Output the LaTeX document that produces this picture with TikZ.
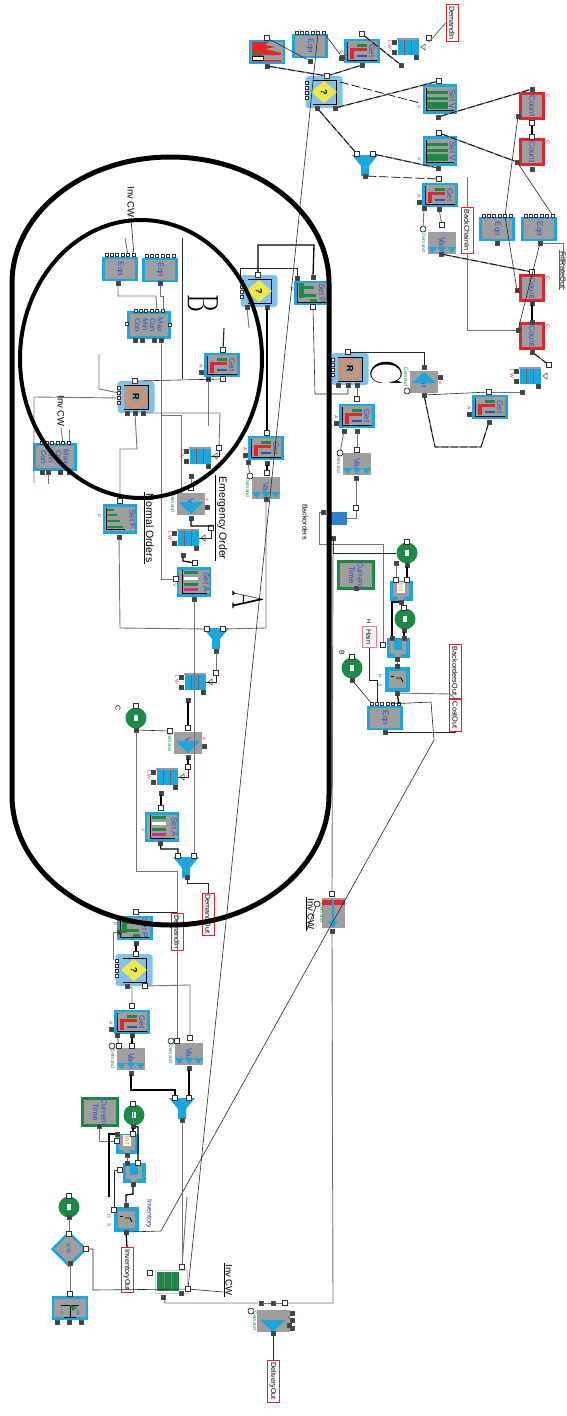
\documentclass[tikz,border=0pt]{standalone}
\usepackage{fontspec}
\setmainfont{Liberation Sans}
\usetikzlibrary{positioning,arrows,shapes}

\definecolor{cyanb}{HTML}{1AA7E0}
\definecolor{grayb}{HTML}{9E9E9E}
\definecolor{lightb}{HTML}{80C2EC}
\definecolor{yellowb}{HTML}{EEE84A}
\definecolor{redb}{HTML}{E1252B}
\definecolor{greenb}{HTML}{1A8A45}
\definecolor{pinkb}{HTML}{E6218E}
\definecolor{blueb}{HTML}{2A55B0}
\definecolor{orangeb}{HTML}{EE8A55}
\definecolor{darkb}{HTML}{2F7FCF}
\definecolor{textb}{HTML}{3050C0}

\tikzset{
    x=1pt, y=-1pt,
    box/.style={rectangle, rotate=-90, inner sep=0pt, outer sep=0pt, fill=grayb, text=textb, font=\fontsize{8}{8.5}\selectfont, align=center},
    eqnbox/.style={box, draw=cyanb, line width=2.5pt, minimum width=22pt, minimum height=33pt},
    getbox/.style={box, draw=cyanb, line width=2.5pt, minimum width=22pt, minimum height=33pt, text height=6pt, text depth=20pt},
    setbox/.style={box, draw=cyanb, line width=2.5pt, minimum width=27pt, minimum height=32pt, text height=6pt, text depth=25pt},
    maxbox/.style={box, draw=cyanb, line width=2.5pt, minimum width=25pt, minimum height=41pt, font=\fontsize{7.5}{7.5}\selectfont},
    countbox/.style={box, draw=redb, line width=2.5pt, minimum width=25pt, minimum height=23pt},
    timebox/.style={box, draw=greenb, line width=2.5pt, minimum width=22pt, minimum height=35pt},
    varbox/.style={box, minimum width=22pt, minimum height=28pt},
    smallbox/.style={box, draw=cyanb, fill=cyanb, line width=1pt, minimum width=19pt, minimum height=22pt},
    intbox/.style={box, draw=cyanb, line width=4pt, minimum width=21pt, minimum height=21pt},
    quebox/.style={box, fill=cyanb, minimum width=16pt, minimum height=21pt},
    decbox/.style={box, fill=lightb, rounded corners=3pt, minimum width=32pt, minimum height=37pt},
    gcirc/.style={circle, rotate=-90, fill=greenb, inner sep=0pt, minimum size=21pt},
    diabox/.style={diamond, rotate=-90, draw=cyanb, fill=grayb, line width=2.5pt, text=textb, inner sep=0pt, minimum width=34pt, minimum height=34pt, font=\fontsize{6}{6}\selectfont},
    redtag/.style={rectangle, rotate=-90, draw=redb, fill=white, line width=.9pt, inner sep=0pt, minimum height=12pt, font=\fontsize{7.2}{7.2}\selectfont},
    tag/.style={rectangle, rotate=-90, inner sep=1pt, font=\fontsize{9}{9}\selectfont},
    bigtag/.style={rectangle, rotate=-90, inner sep=1pt, font=\fontsize{10.5}{10.5}\selectfont},
    letter/.style={rectangle, rotate=-90, xscale=.62, inner sep=0pt, font=\fontfamily{lmr}\fontsize{44}{44}\selectfont},
    mini/.style={rectangle, rotate=-90, inner sep=0pt, font=\fontsize{5}{5}\selectfont},
    dport/.style={rectangle, draw=black!70, fill=black!75, inner sep=0pt, minimum size=4.5pt},
    oport/.style={rectangle, draw=black!80, fill=white, line width=.8pt, inner sep=0pt, minimum size=5pt},
    rport/.style={rectangle, draw=black!80, fill=white, rounded corners=1.5pt, line width=.8pt, inner sep=0pt, minimum size=5.5pt},
    wire/.style={draw=black!85, line width=.6pt},
    gwire/.style={draw=black!55, line width=.9pt},
    bwire/.style={draw=black, line width=1.3pt},
    dwire/.style={draw=black!50, line width=1.3pt, postaction={draw=black, line width=.7pt, dash pattern=on 7pt off 2.5pt}},
    dashw/.style={draw=black, line width=.7pt, dash pattern=on 9pt off 3pt},
    ring/.style={draw=black, line cap=round},
    eqnrow/.pic={
        \node[oport, minimum size=3.6pt] (p1) at (-13,-14) {};
        \node[oport, minimum size=3.6pt] (p2) at (-8,-14) {};
        \node[oport, minimum size=3.6pt] (p3) at (-3,-14) {};
        \node[oport, minimum size=3.6pt] (p4) at (3,-14) {};
        \node[oport, minimum size=3.6pt] (p5) at (8,-14) {};
        \node[oport, minimum size=3.6pt] (p6) at (14,-14) {};
    },
    getbars/.pic={
        \fill[greenb] (-5,-7) rectangle (5,-4.5);
        \fill[redb] (-12,-3) rectangle (5,0);
        \fill[redb] (-12,0) rectangle (-8,8);
        \fill[blueb] (-5,3.5) rectangle (5,6);
        \draw[black, line width=.8pt] (-15,-9) -- (-15,9) -- (15,9);
        \node[mini, text=redb] (a) at (-21,1) {A};
        \node[dport, minimum size=3.5pt] (b) at (-21,7) {};
    },
    setbars/.pic={
        \fill[greenb] (-13,-8.5) rectangle (8,-5.5);
        \fill[greenb] (-13,-2.5) rectangle (8,0.5);
        \fill[greenb] (-13,3) rectangle (8,10);
        \draw[black, line width=.8pt] (-14,-11) -- (-14,11) -- (14,11);
        \node[mini, text=greenb] (a) at (-21,8) {V};
    },
    setabars/.pic={
        \fill[greenb] (-10,-11) rectangle (4,-8);
        \fill[white] (-10,-5.5) rectangle (4,-2.5);
        \fill[greenb] (-10,0.5) rectangle (4,3.5);
        \fill[pinkb] (-10,6) rectangle (4,9);
        \draw[black, line width=.8pt] (-12,-12) -- (-12,11) -- (13,11);
        \node[mini, text=greenb] (a) at (-19,3) {V};
    },
    setfbars/.pic={
        \fill[greenb] (-13,-10) rectangle (-6,-8);
        \fill[greenb] (-13,-5) rectangle (-3,-3);
        \fill[greenb] (-13,1) rectangle (0,3);
        \fill[greenb] (-13,7) rectangle (3,9);
        \draw[black, line width=.8pt] (-14,-11) -- (-14,10) -- (5,10);
        \node[mini, text=greenb] (a) at (-21,-3) {F};
    },
    setpbars/.pic={
        \fill[greenb] (-13,-10) rectangle (-8,5);
        \fill[greenb] (-8,-7) rectangle (2,-4);
        \fill[greenb] (-8,1) rectangle (4,4);
        \fill[greenb] (-2,6) rectangle (5,9);
        \draw[black, line width=.8pt] (-15,-10) -- (-15,9) -- (14,9);
        \node[mini, text=redb] (a) at (-20,-4) {P};
    },
    chartbars/.pic={
        \fill[redb] (-15,-10) -- (2,-10) -- (-2,-7) -- (8,-5) -- (-2,-3) -- (14,1) -- (14,3) -- (-4,3) -- (-4,8) -- (14,8) -- (14,9.5) -- (-15,9.5) -- cycle;
        \fill[greenb] (-15,1) rectangle (-3,3);
        \fill[white] (-15,4) rectangle (-4,8.5);
        \draw[black, line width=.7pt] (-15,4) rectangle (-4,8.5);
    },
    quecells/.pic={
        \fill[black!40] (-11,-9) rectangle (11,-7);
        \draw[black!60, line width=.7pt] (-4,-7) -- (-4,8);
        \draw[black!60, line width=.7pt] (3,-7) -- (3,8);
        \draw[black!80, line width=.5pt] (13,0) -- (17,-3) -- (17,3) -- cycle;
        \node[mini, text=redb] (a) at (-18,-2) {L W};
        \node[dport, minimum size=3.5pt] (b) at (-14,-5) {};
        \node[dport, minimum size=3.5pt] (c) at (-14,5) {};
        \node[dport, minimum size=3.5pt] (d) at (8,10) {};
    },
    vartris/.pic={
        \fill[cyanb] (-14,4) -- (-5,4) -- (-9.5,10) -- cycle;
        \fill[cyanb] (-4.5,4) -- (4.5,4) -- (0,10) -- cycle;
        \fill[cyanb] (5,4) -- (14,4) -- (9.5,10) -- cycle;
        \node[mini, text=greenb] (a) at (-18,0) {Demand};
    },
    varfun/.pic={
        \fill[cyanb] (-12,-1) -- (12,-1) -- (0,11) -- cycle;
        \node[mini, text=greenb] (a) at (-18,0) {Demand};
        \node[mini, text=redb] (b) at (16,-3) {\#};
        \node[dport, minimum size=3.5pt] (c) at (16,4) {};
    },
    varup/.pic={
        \fill[cyanb] (-12,0) -- (12,0) -- (0,-11) -- cycle;
        \node[mini, text=greenb] (a) at (-18,-6) {Demand};
        \node[mini, text=redb] (b) at (16,0) {\#};
        \node[dport, minimum size=3.5pt] (c) at (16,-6) {};
    },
    funnel/.pic={
        \fill[cyanb] (-13,-10) -- (13,-10) -- (4,1) -- (4,11) -- (-4,11) -- (-4,1) -- cycle;
    },
    decq/.pic={
        \draw[black, line width=.6pt] (-11,-12) -- (12,-12) -- (12,12) -- (-11,12);
        \fill[yellowb] (-13,0) -- (0,-11) -- (13,0) -- (0,11) -- cycle;
        \node[rectangle, rotate=-90, inner sep=0pt, font=\bfseries\fontsize{9}{9}\selectfont] (a) at (0,0) {?};
        \node[oport, minimum size=3pt] (b) at (-17,-9) {};
        \node[oport, minimum size=3pt] (c) at (-17,-4) {};
        \node[oport, minimum size=3pt] (d) at (-17,1) {};
        \node[oport, minimum size=3pt] (e) at (-17,6) {};
    },
    decr/.pic={
        \fill[grayb] (-12,-12) rectangle (12,12);
        \draw[black, line width=.6pt] (-12,-12) -- (12,-12) -- (12,12) -- (-12,12);
        \draw[orangeb, fill=grayb, line width=2.5pt] (0,0) circle[radius=8.5pt];
        \node[rectangle, rotate=-90, inner sep=0pt, font=\bfseries\fontsize{9}{9}\selectfont] (a) at (0,0) {R};
        \node[oport, minimum size=3pt] (b) at (-17,-9) {};
        \node[oport, minimum size=3pt] (c) at (-17,-4) {};
        \node[oport, minimum size=3pt] (d) at (-17,1) {};
        \node[oport, minimum size=3pt] (e) at (-17,6) {};
    },
    intu/.pic={
        \fill[white] (-7,-9) rectangle (7,3);
        \fill[grayb] (-8,-9) rectangle (-4,6);
        \fill[grayb] (4,-9) rectangle (8,6);
        \fill[grayb] (-8,2) rectangle (8,6);
        \fill[grayb] (-3,6) rectangle (3,9);
    },
    cupu/.pic={
        \fill[grayb] (-8,-9) rectangle (-4,6);
        \fill[grayb] (4,-9) rectangle (8,6);
        \fill[grayb] (-8,2) rectangle (8,6);
        \fill[grayb] (-3,6) rectangle (3,9);
    },
    intcurve/.pic={
        \draw[black, line width=.8pt] (-6,-3) -- (-3,-3);
        \draw[black, line width=.8pt] (-1,-1) -- (4,-1) -- (6,3);
        \node[mini, text=greenb] (a) at (-17,-3) {H};
        \node[mini, text=greenb] (b) at (-17,6) {S};
    },
    flagmark/.pic={
        \draw[black, line width=1pt] (-9,-3) -- (9,-3);
        \draw[black, line width=1pt] (0,-3) -- (0,9);
        \draw[black, line width=1pt] (-6,9) -- (6,9);
        \fill[greenb] (0,-3) -- (7,-1) -- (3,3) -- cycle;
        \node[mini, text=textb] (a) at (-8,5) {v};
        \node[mini, text=textb] (b) at (8,5) {m};
    }
}

\begin{document}
\begin{tikzpicture}
\useasboundingbox (0,0) rectangle (567,1416);
% ---- upper right group
\node[box, draw=cyanb, line width=2.5pt, minimum width=22pt, minimum height=34pt] (chartA) at (267,52) {};
\pic (chartAd) at (267,52) {chartbars};
\node[eqnbox] (eqnA) at (310,46) {Eqn};
\pic (eqnAr) at (310,47) {eqnrow};
\node[getbox] (getA) at (362,51) {Get};
\pic (getAd) at (362,51) {getbars};
\node[quebox] (queA) at (408,47) {};
\pic (queAd) at (408,47) {quecells};
\node[redtag, minimum width=37pt] (demandIn) at (452,23) {DemandIn};
\node[decbox] (decA) at (324,92) {};
\pic (decAd) at (324,92) {decq};
\node[setbox] (setV) at (440,99) {Set V};
\pic (setVd) at (440,99) {setbars};
\node[setbox] (setW) at (440,151) {Set V};
\pic (setWd) at (440,151) {setbars};
\pic (funA) at (365,165) {funnel};
\node[getbox] (getB) at (440,195) {Get};
\pic (getBd) at (440,195) {getbars};
\node[varbox] (varA) at (442,243) {Var};
\pic (varAd) at (442,243) {vartris};
\node[redtag, minimum width=46pt] (backChain) at (467,230) {BackChainIn};
\node[eqnbox] (eqnB) at (497,229) {Eqn};
\pic (eqnBr) at (497,230) {eqnrow};
\node[eqnbox] (eqnC) at (539,229) {Eqn};
\pic (eqnCr) at (539,230) {eqnrow};
\node[countbox] (cntA) at (532,106) {Count};
\node[countbox] (cntB) at (532,152) {Count};
\node[countbox] (cntC) at (532,288) {Count};
\node[countbox] (cntD) at (532,336) {Count};
\node[mini, text=redb] (cntAc) at (548,96) {C};
\node[mini, text=redb] (cntBc) at (548,142) {C};
\node[mini, text=redb] (cntCc) at (548,278) {C};
\node[mini, text=redb] (cntDc) at (548,326) {C};
\node[tag, text=black, font=\fontsize{7.5}{7.5}\selectfont] (fillOut) at (563,270) {FillRateOut};
\node[quebox] (queB) at (530,376) {};
\pic (queBd) at (530,376) {quecells};
\node[decbox] (decR) at (350,369) {};
\pic (decRd) at (350,369) {decr};
\node[varbox] (varB) at (424,382) {Var};
\pic (varBd) at (424,383) {varup};
\node[getbox] (getC) at (490,407) {Get};
\pic (getCd) at (490,407) {getbars};
\node[getbox] (getD) at (357,416) {Get};
\pic (getDd) at (357,416) {getbars};
\node[varbox] (varC) at (357,464) {Var};
\pic (varCd) at (357,464) {vartris};
\node[box, fill=darkb, minimum width=13pt, minimum height=17pt] (queC) at (338,518) {};
% ---- backorder group
\node[tag, font=\fontsize{7}{7}\selectfont] (backOrd) at (305,522) {Backorders};
\node[timebox] (timeA) at (356,575) {Current\\Time};
\node[gcirc] (circA) at (407,553) {\textcolor{white}{\rule{6pt}{4pt}}};
\node[smallbox] (intA) at (401,591) {};
\pic (intAd) at (401,591) {intu};
\node[mini, text=orangeb, font=\fontsize{8}{8}\selectfont] (intAt) at (401,587) {Int};
\node[gcirc] (circB) at (405,619) {\textcolor{white}{\rule{6pt}{4pt}}};
\node[smallbox] (intB) at (398,648) {};
\pic (intBd) at (398,648) {cupu};
\node[intbox] (sumA) at (397,679) {};
\pic (sumAd) at (397,679) {intcurve};
\node[gcirc] (circC) at (352,668) {\textcolor{white}{\rule{6pt}{4pt}}};
\node[mini, text=black, font=\fontsize{7}{7}\selectfont] (circClab) at (342,653) {B};
\node[redtag, draw=redb!60, minimum width=21pt, minimum height=14pt] (holdIn) at (369,637) {Hain};
\node[mini, text=black, font=\fontsize{6}{6}\selectfont] (holdLab) at (369,622) {H};
\node[eqnbox] (eqnD) at (385,718) {Eqn};
\pic (eqnDr) at (385,718) {eqnrow};
\node[redtag, minimum width=54pt] (backOut) at (455,671) {BackordersOut};
\node[redtag, minimum width=32pt] (costOut) at (455,715) {CostOut};
% ---- left column inside the loop
\node[tag, font=\fontsize{9.5}{9.5}\selectfont] (invA) at (131,202) {Inv CW};
\node[eqnbox] (eqnE) at (120,269) {Eqn};
\pic (eqnEr) at (120,269) {eqnrow};
\node[eqnbox] (eqnF) at (160,270) {Eqn};
\pic (eqnFr) at (160,270) {eqnrow};
\node[maxbox] (maxA) at (149,325) {Max\\Con\\Min\\Con};
\pic (maxAr) at (149,325) {eqnrow};
\node[getbox] (getE) at (222,365) {Get};
\pic (getEd) at (222,365) {getbars};
\node[decbox] (decS) at (136,397) {};
\pic (decSd) at (136,397) {decr};
\node[tag, font=\fontsize{9.5}{9.5}\selectfont] (invB) at (61,411) {Inv CW};
\node[maxbox] (maxB) at (55,457) {Max\\Con\\Min\\Con};
\pic (maxBr) at (55,457) {eqnrow};
\node[quebox] (queD) at (200,456) {};
\pic (queDd) at (200,456) {quecells};
\node[varbox] (varD) at (191,504) {Var};
\pic (varDd) at (191,503) {varfun};
\node[setbox] (setF) at (120,519) {Set F};
\pic (setFd) at (120,519) {setfbars};
\node[quebox] (queE) at (188,538) {};
\pic (queEd) at (188,538) {quecells};
\node[bigtag] (normal) at (150,528) {Normal Orders};
\node[bigtag] (emerg) at (222,518) {Emergency Order};
\node[decbox] (decT) at (259,291) {};
\pic (decTd) at (259,291) {decq};
\node[getbox] (setP) at (312,293) {Set P};
\pic (setPd) at (312,293) {setpbars};
\node[getbox] (getF) at (266,448) {Get};
\pic (getFd) at (266,448) {getbars};
\node[varbox] (varE) at (266,488) {Var};
\pic (varEd) at (266,488) {vartris};
\node[setbox] (setA) at (194,582) {Set A};
\pic (setAd) at (194,582) {setabars};
\pic (funB) at (216,638) {funnel};
\node[quebox] (queF) at (195,682) {};
\pic (queFd) at (195,682) {quecells};
\node[gcirc] (circD) at (136,718) {\textcolor{white}{\rule{6pt}{4pt}}};
\node[mini, text=black, font=\fontsize{7}{7}\selectfont] (circDlab) at (118,708) {C};
\node[varbox] (varF) at (188,743) {Var};
\pic (varFd) at (188,742) {varfun};
\node[quebox] (queG) at (167,777) {};
\pic (queGd) at (167,777) {quecells};
\node[setbox] (setB) at (162,827) {Set A};
\pic (setBd) at (162,827) {setabars};
\pic (funC) at (186,867) {funnel};
\node[redtag, minimum width=42pt] (demandOut) at (208,914) {DemandOut};
\node[redtag, minimum width=37pt] (demandInB) at (177,932) {DemandIn};
% ---- lower group
\node[varbox, minimum width=30pt, minimum height=23pt] (varG) at (333,913) {};
\fill[redb] (322,900) rectangle (345,905);
\fill[cyanb] (332,899) rectangle (334,925);
\fill[cyanb] (328,921) -- (338,921) -- (333,928) -- cycle;
\node[mini, text=greenb] (varGlab) at (322,913) {Demand};
\node[tag, font=\fontsize{9.5}{9.5}\selectfont] (invC) at (311,914) {Inv CW};
\node[getbox] (setQ) at (135,928) {Set P};
\pic (setQd) at (135,928) {setpbars};
\node[decbox] (decU) at (134,970) {};
\pic (decUd) at (134,970) {decq};
\node[getbox] (getG) at (132,1022) {Get};
\pic (getGd) at (132,1022) {getbars};
\node[varbox] (varH) at (131,1059) {Var};
\pic (varHd) at (131,1059) {vartris};
\node[varbox] (varI) at (189,1054) {Var};
\pic (varId) at (189,1054) {vartris};
\pic (funD) at (182,1108) {funnel};
\node[timebox] (timeB) at (100,1112) {Current\\Time};
\node[gcirc] (circE) at (134,1115) {\textcolor{white}{\rule{6pt}{4pt}}};
\node[smallbox] (intC) at (127,1144) {};
\pic (intCd) at (127,1144) {intu};
\node[mini, text=orangeb, font=\fontsize{8}{8}\selectfont] (intCt) at (127,1140) {Int};
\node[smallbox] (intD) at (134,1173) {};
\pic (intDd) at (134,1173) {cupu};
\node[intbox] (sumB) at (126,1219) {};
\pic (sumBd) at (126,1219) {intcurve};
\node[tag, text=textb!60!black, font=\fontsize{7}{7}\selectfont] (invent) at (149,1214) {Inventory};
\node[redtag, minimum width=45pt] (invOut) at (127,1270) {InventoryOut};
\node[gcirc] (circF) at (69,1207) {\textcolor{white}{\rule{6pt}{4pt}}};
\node[diabox] (testA) at (69,1249) {a=b};
\node[box, draw=cyanb, line width=2.5pt, minimum width=21pt, minimum height=34pt] (flagA) at (70,1308) {};
\pic (flagAd) at (70,1308) {flagmark};
\node[box, fill=white, draw=black!20, minimum width=23pt, minimum height=32pt] (invBox) at (171,1282) {};
\fill[greenb] (157,1272) rectangle (179,1291);
\draw[black!50, line width=.5pt] (164,1272) -- (164,1291);
\draw[black!50, line width=.5pt] (171,1272) -- (171,1291);
\node[tag, font=\fontsize{9.5}{9.5}\selectfont] (invD) at (229,1280) {Inv CW};
\node[varbox, minimum width=22pt, minimum height=33pt] (varJ) at (273,1321) {};
\pic (varJd) at (273,1321) {varfun};
\node[redtag, minimum width=42pt] (deliver) at (273,1381) {DeliveryOut};

% ---- ports upper right
\node[dport] (chartAo) at (267,66) {};
\node[oport] (chartAt) at (267,38) {};
\node[dport] (eqnAb) at (310,61) {};
\node[dport] (getAl) at (342,57) {};
\node[oport] (getAt) at (362,34) {};
\node[dport] (getAb) at (362,65) {};
\node[dport] (queAb) at (401,65) {};
\node[oport] (queAt) at (429,38) {};
\node[oport] (decAt) at (327,76) {};
\node[dport] (decAa) at (317,108) {};
\node[dport] (decAb) at (335,108) {};
\coordinate (decAr) at (340,82);
\node[oport] (setVt) at (439,81) {};
\node[dport] (setVb) at (438,117) {};
\coordinate (setVl) at (420,103);
\node[oport] (setWt) at (439,133) {};
\node[dport] (setWb) at (438,168) {};
\node[oport] (funAa) at (357,154) {};
\node[oport] (funAb) at (373,154) {};
\node[dport] (funAc) at (365,176) {};
\node[oport] (getBt) at (439,179) {};
\node[dport] (getBa) at (424,208) {};
\node[dport] (getBb) at (439,209) {};
\node[rport] (varAl) at (423,229) {};
\node[oport] (varAt) at (442,225) {};
\node[dport] (varAb) at (441,254) {};
\node[dport] (eqnCb) at (540,243) {};
\node[dport] (eqnBb) at (497,243) {};
\node[dport] (cntAt) at (532,89) {};
\node[dport] (cntAl) at (518,116) {};
\node[oport] (cntAb) at (532,123) {};
\node[oport] (cntBt) at (532,137) {};
\node[dport] (cntBl) at (517,162) {};
\node[dport] (cntBb) at (532,169) {};
\node[oport] (cntCt) at (532,272) {};
\node[dport] (cntCl) at (517,290) {};
\node[dport] (cntCb) at (532,303) {};
\node[dport] (cntDt) at (532,322) {};
\node[dport] (cntDl) at (518,330) {};
\node[dport] (cntDb) at (532,352) {};
\node[oport] (queBr) at (549,365) {};
\node[dport] (queBb) at (522,392) {};
\node[oport] (decRt) at (348,352) {};
\node[dport] (decRa) at (338,385) {};
\node[dport] (decRb) at (348,385) {};
\node[dport] (decRc) at (357,385) {};
\node[dport] (varBt) at (424,367) {};
\node[dport] (varBb) at (424,395) {};
\node[rport] (varBl) at (407,391) {};
\node[oport] (getCt) at (489,392) {};
\node[dport] (getCb) at (489,422) {};
\node[oport] (getDt) at (357,399) {};
\node[dport] (getDa) at (344,431) {};
\node[dport] (getDb) at (357,431) {};
\node[oport] (varCt) at (357,450) {};
\node[rport] (varCl) at (340,453) {};
\node[dport] (varCb) at (356,478) {};
\node[oport] (queCr) at (356,508) {};
\node[dport] (queCb) at (333,538) {};
\node[dport] (queCa) at (323,512) {};
% ---- ports backorder group
\node[oport] (circAt) at (407,542) {};
\node[dport] (circAa) at (396,563) {};
\node[dport] (circAb) at (407,565) {};
\node[dport] (timeAb) at (356,588) {};
\node[oport] (intAa) at (396,580) {};
\node[oport] (intAc) at (407,580) {};
\node[dport] (intAb) at (401,602) {};
\node[oport] (circBt) at (404,608) {};
\node[dport] (circBb) at (404,630) {};
\node[dport] (intBa) at (392,638) {};
\node[dport] (intBc) at (404,638) {};
\node[oport] (intBl) at (383,645) {};
\node[dport] (intBb) at (397,659) {};
\node[dport] (sumAt) at (397,666) {};
\node[dport] (sumAb) at (397,693) {};
\node[oport] (circCt) at (352,657) {};
\node[dport] (circCb) at (352,680) {};
\node[dport] (eqnDb) at (385,732) {};
% ---- ports left column
\node[dport] (eqnEb) at (118,283) {};
\node[dport] (eqnFb) at (160,283) {};
\coordinate (eqnEs) at (125,238);
\node[dport] (maxAa) at (135,340) {};
\node[dport] (maxAc) at (142,340) {};
\node[dport] (maxAd) at (154,340) {};
\node[dport] (maxAb) at (161,340) {};
\node[oport, minimum size=3.6pt] (maxAl) at (127,324) {};
\node[oport, minimum size=3.6pt] (maxAr2) at (170,325) {};
\node[oport] (getEt) at (223,350) {};
\coordinate (getEs) at (224,328);
\node[oport] (getEb) at (223,379) {};
\node[dport] (getEc) at (208,379) {};
\coordinate (getEd2) at (208,426);
\node[oport] (decSt) at (135,381) {};
\node[dport] (decSa) at (127,413) {};
\node[dport] (decSb) at (135,413) {};
\node[dport] (decSc) at (143,413) {};
\coordinate (decSs) at (99,354);
\coordinate (maxBs1) at (34,483);
\coordinate (maxBs2) at (48,484);
\node[dport] (maxBa) at (42,472) {};
\node[dport] (maxBc) at (48,472) {};
\node[dport] (maxBd) at (60,472) {};
\node[dport] (maxBb) at (69,472) {};
\node[oport] (queDr) at (219,448) {};
\node[dport] (queDb) at (191,476) {};
\node[oport] (varDt) at (191,488) {};
\node[dport] (varDb) at (191,518) {};
\node[oport] (setFt) at (120,501) {};
\node[dport] (setFb) at (119,537) {};
\node[oport] (queEr) at (211,528) {};
\node[dport] (queEb) at (183,555) {};
\node[oport] (setAt) at (195,563) {};
\node[oport] (setAl) at (176,579) {};
\node[dport] (setAb) at (194,599) {};
\node[oport] (decTt) at (258,275) {};
\node[dport] (decTa) at (247,307) {};
\coordinate (decTs) at (249,328);
\node[dport] (decTb) at (267,307) {};
\node[dport] (setPt) at (313,277) {};
\node[dport] (setPl) at (297,278) {};
\node[oport] (setPb) at (313,307) {};
\node[oport] (getFt) at (267,433) {};
\node[dport] (getFa) at (248,462) {};
\node[dport] (getFb) at (267,463) {};
\node[rport] (varEl) at (250,476) {};
\node[oport] (varEt) at (267,473) {};
\node[dport] (varEb) at (266,499) {};
\node[oport] (funBa) at (207,629) {};
\node[oport] (funBb) at (223,629) {};
\node[dport] (funBc) at (216,651) {};
\node[oport] (queFr) at (216,673) {};
\node[dport] (queFb) at (188,700) {};
\node[oport] (varFt) at (188,728) {};
\node[oport] (varFl) at (170,731) {};
\node[dport] (varFb) at (188,757) {};
\node[oport] (queGr) at (188,767) {};
\node[dport] (queGb) at (161,793) {};
\node[oport] (setBt) at (161,808) {};
\node[dport] (setBb) at (160,843) {};
\node[oport] (funCa) at (178,856) {};
\node[oport] (funCb) at (194,856) {};
\node[dport] (funCc) at (187,877) {};
\node[oport] (circDt) at (136,706) {};
\node[dport] (circDb) at (136,730) {};
% ---- ports lower group
\node[oport] (varGt) at (332,894) {};
\node[rport] (varGl) at (317,904) {};
\node[dport] (varGb) at (332,931) {};
\node[oport] (setQt) at (136,912) {};
\node[dport] (setQb) at (136,943) {};
\node[dport] (setQl) at (119,932) {};
\node[oport] (decUt) at (136,954) {};
\node[dport] (decUa) at (127,986) {};
\node[oport] (decUb) at (145,986) {};
\node[oport] (getGt) at (132,1006) {};
\node[dport] (getGa) at (117,1035) {};
\node[dport] (getGb) at (132,1035) {};
\node[rport] (varHl) at (112,1046) {};
\node[oport] (varHa) at (119,1046) {};
\node[oport] (varHt) at (132,1046) {};
\node[dport] (varHb) at (131,1073) {};
\node[rport] (varIl) at (171,1041) {};
\node[oport] (varIa) at (177,1041) {};
\node[oport] (varIt) at (190,1038) {};
\node[dport] (varIb) at (189,1068) {};
\node[oport] (funDa) at (175,1098) {};
\node[oport] (funDb) at (189,1098) {};
\node[dport] (funDc) at (182,1120) {};
\node[dport] (timeBb) at (99,1126) {};
\node[oport] (circEt) at (133,1104) {};
\node[dport] (circEb) at (133,1126) {};
\node[oport] (intCa) at (117,1141) {};
\node[dport] (intCl) at (117,1134) {};
\node[oport] (intCt2) at (133,1134) {};
\node[dport] (intCb) at (127,1155) {};
\node[dport] (intDt) at (127,1163) {};
\node[oport] (intDa) at (138,1163) {};
\node[oport] (intDl) at (120,1170) {};
\node[dport] (intDb) at (133,1184) {};
\node[dport] (sumBt) at (126,1205) {};
\node[oport] (sumBl) at (114,1210) {};
\node[dport] (sumBb) at (126,1232) {};
\coordinate (sumBs) at (109,1197);
\node[oport] (circFt) at (69,1196) {};
\node[dport] (circFb) at (69,1217) {};
\node[oport] (testAt) at (69,1234) {};
\node[oport] (testAr) at (86,1249) {};
\node[dport] (testAb) at (70,1263) {};
\node[oport] (flagAt) at (70,1294) {};
\node[dport] (flagAa) at (57,1322) {};
\node[dport] (flagAc) at (69,1322) {};
\node[dport] (flagAd2) at (81,1322) {};
\node[oport] (invBoxl) at (150,1273) {};
\node[oport] (invBoxt) at (182,1267) {};
\node[oport] (invBoxr) at (188,1289) {};
\node[dport] (invBoxb) at (163,1297) {};
\node[dport] (invBoxc) at (181,1293) {};
\coordinate (invBoxs) at (187,1197);
\node[dport] (varJa) at (261,1303) {};
\node[dport] (varJc) at (273,1303) {};
\node[oport] (varJb) at (285,1303) {};
\node[rport] (varJl) at (251,1311) {};
\node[dport] (varJe) at (273,1333) {};
\node[dport] (varJr1) at (292,1313) {};
\node[dport] (varJr2) at (292,1320) {};
\node[dport] (varJr3) at (292,1328) {};

% ---- connectors upper right
\draw[wire] (chartAt) -- (eqnAb);
\draw[dwire] (chartAo) -- (decAt);
\draw[wire] (eqnArp6) -- (getAl);
\draw[dwire] (getAt) -- (queAb);
\draw[dwire] (getAb) -- (decAt);
\draw[gwire] (queAt) -- (429,42) -- (demandIn.south);
\draw[dashw] (decAr) -- (setVl);
\draw[dwire] (decAb) -- (setVt);
\draw[dwire] (decAa) -- (funAa);
\draw[dwire] (funAb) -- (setWb);
\draw[dashw] (funAc) -- (getBt);
\draw[dwire] (setVb) -- (cntAt);
\draw[dwire] (setWt) -- (cntBl);
\draw[gwire] (getBa) -- (varAl);
\draw[gwire] (getBb) -- (varAt);
\draw[dwire] (varAb) -- (cntCt);
\draw[bwire] (cntAb) -- (cntBt);
\draw[bwire] (cntCb) -- (cntDt);
\draw[wire] (cntAl) -- (eqnBrp5);
\draw[wire] (eqnBrp5) -- (cntCl);
\draw[wire] (eqnCrp6) -- (cntBl);
\draw[wire] (eqnCb) -- (cntDl);
\draw[gwire] (eqnCb) -| (fillOut.east);
\draw[gwire] (backChain.west) -- (467,177);
\draw[gwire] (backChain.east) |- (cntDl);
\draw[dwire] (cntDb) -- (queBr);
\draw[wire] (decRt) -| (varBt);
\draw[wire] (varBb) -- (getCt);
\draw[gwire] (getCt) -- (queBb);
\draw[dwire] (varBb) -- (435,447) -- (481,447) -- (getCb);
\draw[wire] (decRb) |- (315,394) -- (setPb);
\draw[gwire] (decRc) -- (getDt);
\draw[gwire] (getDa) -- (varCl);
\draw[gwire] (getDb) -- (varCt);
\draw[gwire] (varCb) -- (queCr);
\draw[gwire] (queCr) |- (queC.north);
\draw[gwire] (queCa) -- (319,512) -- (319,544) -- (383,544) -- (intBl);
\draw[wire] (queCb) |- (circA.south);
\draw[gwire] (queCb) -- (varGt);
% ---- connectors backorder group
\draw[gwire] (circAa) -- (intAa);
\draw[bwire] (circAb) -- (intAc);
\draw[bwire] (intAb) -- (392,602) -- (intBa);
\draw[bwire] (circBb) -- (intBc);
\draw[gwire] (intBb) -- (sumAt);
\draw[wire] (circCb) -- (eqnDrp1);
\draw[wire] (holdIn.east) -- (369,680) -- (377,680) -- (eqnDrp2);
\draw[gwire] (sumAb) -- (450,694) -- (backOut.east);
\draw[wire] (eqnDb) -- (455,732) -- (costOut.east);
\draw[bwire] (sumAb) -- (eqnDrp6);
\draw[wire] (eqnDrp4) -- (431,702) -- (434,740) -- (161,1231) -- (sumBb);
% ---- connectors left column
\draw[wire] (invA.east) -- (eqnErp6);
\draw[gwire] (eqnEs) -- (eqnErp5);
\draw[gwire] (eqnEb) -- (118,296) -- (156,296) -- (maxArp5);
\draw[gwire] (eqnFb) -- (160,296) -- (163,296) -- (maxArp6);
\draw[wire] (182,238) -- (182,379);
\draw[wire] (decSt) -- (getEb);
\draw[wire, line width=1.1pt] (getEs) -- (getEt);
\draw[gwire] (getEc) -- (getEd2);
\draw[gwire] (decSdc) -- (99,389) -- (decSs);
\draw[gwire] (decSdd) -- (34,397) -- (maxBs1);
\draw[gwire] (invB.east) -- (maxBrp5);
\draw[gwire] (69,430) -- (maxBrp6);
\draw[gwire] (maxBc) -- (maxBs2);
\draw[gwire] (decSb) -- (137,449) -- (120,449) -- (setFt);
\draw[gwire] (decSc) -- (220,413) -- (queDr);
\draw[wire] (queDr) |- (queD.north);
\draw[gwire] (161,415) -- (181,415) -- (181,494);
\draw[gwire] (queDb) -- (varDt);
\draw[bwire] (varDb) -- (191,526) -- (212,526) -- (queEr);
\draw[wire] (queEr) |- (queE.north);
\draw[bwire] (queEb) -- (183,561) -- (setAt);
\draw[gwire] (maxAb) -- (161,579) -- (setAl);
\draw[gwire] (setFb) -- (120,628) -- (funBa);
\draw[gwire] (setAb) -- (funCb);
\draw[gwire] (funBb) -- (266,628) -- (varEb);
\draw[gwire] (funBc) -- (queFr);
\draw[wire] (queFr) |- (queF.north);
\draw[bwire] (queFb) -- (varFt);
\draw[wire] (circDb) -- (varFl);
\draw[bwire] (varFb) -- (queGr);
\draw[wire] (queGr) |- (queG.north);
\draw[bwire] (queGb) -- (setBt);
\draw[bwire] (setBb) -- (161,849) -- (178,849) -- (funCa);
\draw[wire] (funCc) -- (187,883) -- (208,883) -- (demandOut.west);
\draw[gwire] (circDb) -- (136,871) -- (177,871) -- (varIa);
\draw[wire] (setQt) -- (177,912);
\draw[bwire] (decTt) -- (258,245) -- (314,245) -- (setPt);
\draw[wire] (240,283) -- (240,268) -- (297,268) -- (setPl);
\draw[gwire] (decTa) -- (decTs);
\draw[bwire] (decTb) -- (getFt);
\draw[gwire] (getFa) -- (varEl);
\draw[bwire] (getFb) -- (varEt);
% ---- connectors lower group
\draw[bwire] (setQb) -- (decUt);
\draw[gwire] (setQl) -- (113,932) -- (113,960);
\draw[gwire] (decUa) -- (132,988) -- (getGt);
\draw[gwire] (decUb) -- (190,985) -- (varIt);
\draw[bwire] (getGb) -- (varHt);
\draw[gwire] (getGa) -- (varHa);
\draw[bwire] (varHb) -- (131,1090) -- (175,1090) -- (funDa);
\draw[bwire] (varIb) -- (funDb);
\draw[gwire] (funDc) -- (invBoxt);
\draw[gwire] (timeBb) -- (99,1141) -- (intCa);
\draw[gwire] (circEt) -- (circEb);
\draw[bwire] (circEb) -- (intCt2);
\draw[bwire] (circEb) -- (138,1127) -- (intDa);
\draw[bwire] (sumBs) -- (109,1134) -- (intCl);
\draw[gwire] (intCb) -- (intDt);
\draw[wire] (intDl) -- (114,1170) -- (sumBl);
\draw[bwire] (intDb) -- (133,1194) -- (126,1195) -- (sumBt);
\draw[bwire] (sumBb) -- (invOut.west);
\draw[gwire] (circFb) -- (testAt);
\draw[wire] (testAr) -- (93,1249) -- (93,1290) -- (invBoxr);
\draw[gwire] (testAb) -- (flagAt);
\draw[wire] (invBoxr) -- (223,1292);
\draw[gwire] (invBoxs) -- (invBoxt);
\draw[gwire] (invBoxb) -- (165,1303) -- (varJa);
\draw[gwire] (varJa) -- (varJc);
\draw[gwire] (varJc) -- (varJb);
\draw[gwire] (varJb) -- (333,1303) -- (varGb);
\draw[wire] (invC.south east) -- (varGl);
\draw[wire] (varJe) -- (deliver.west);
\draw[wire] (eqnArp5) -- (invBoxr);
% ---- label underlines
\draw[black, line width=.9pt] (invD.south west) -- (invD.south east);
\draw[black, line width=.9pt] (invC.south west) -- (invC.south east);
\draw[black, line width=.9pt] (normal.south west) -- (normal.south east);
\draw[black, line width=.9pt] (emerg.south west) -- (emerg.south east);
\draw[redb, line width=.9pt] (fillOut.south west) -- (fillOut.south east);
% ---- the two marked regions
\draw[ring, line width=5pt] (12,283) arc[start angle=180, end angle=0, x radius=158.5pt, y radius=126pt] -- (329,795) arc[start angle=0, end angle=-180, x radius=158.5pt, y radius=130pt] -- cycle;
\draw[ring, line width=4pt] (141,359) ellipse[x radius=121pt, y radius=139pt];
\node[letter] (letA) at (248,600) {A};
\node[letter] (letB) at (203,303) {B};
\node[letter, xscale=1.35] (letC) at (387,373) {C};
\end{tikzpicture}
\end{document}
